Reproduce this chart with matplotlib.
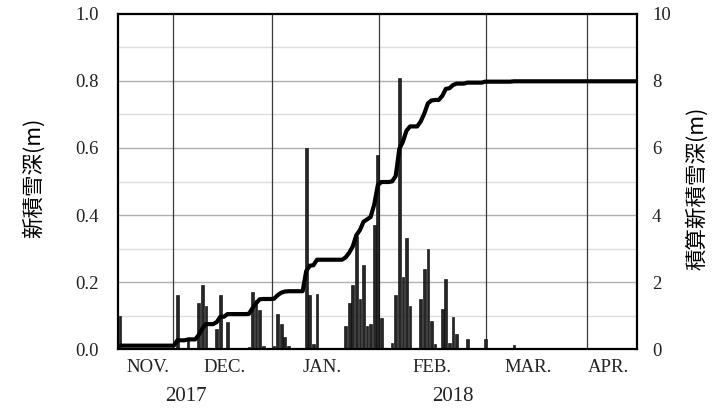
import numpy as np
import matplotlib
matplotlib.use("Agg")
import matplotlib.pyplot as plt

# daily new snow depth (m), indexed by day of the season (day 0 = left edge)
snow_days = [0, 16, 19, 22, 23, 24, 27, 28, 30, 36, 37, 38, 39, 40,
             43, 44, 45, 46, 47, 52, 53, 54, 55,
             63, 64, 65, 66, 67, 68, 69, 70, 71, 72, 73,
             76, 77, 78, 79, 80, 81, 84, 85, 86, 87, 88,
             90, 91, 92, 93, 94, 97, 102, 110]
snow_depth = [0.10, 0.16, 0.027, 0.138, 0.19, 0.128, 0.06, 0.16, 0.08, 0.007, 0.17, 0.146, 0.117, 0.01,
              0.008, 0.104, 0.075, 0.035, 0.01, 0.60, 0.161, 0.015, 0.164,
              0.069, 0.138, 0.19, 0.337, 0.15, 0.25, 0.069, 0.075, 0.37, 0.58, 0.092,
              0.019, 0.16, 0.808, 0.214, 0.33, 0.128, 0.15, 0.24, 0.30, 0.085, 0.015,
              0.12, 0.21, 0.019, 0.095, 0.044, 0.029, 0.029, 0.011]
n_days = 145

month_lines = [15.4, 43.0, 72.8, 102.7, 130.9]
month_label_pos = [8.3, 29.8, 56.9, 87.7, 114.5, 136.8]
month_labels = ["NOV.", "DEC.", "JAN.", "FEB.", "MAR.", "APR."]
years = ["2017", "2018"]

serif = "Liberation Serif"
cjk = ["Noto Sans CJK JP", "DejaVu Sans"]

daily = np.zeros(n_days)
daily[snow_days] = snow_depth
cumulative = np.cumsum(daily)
x = np.arange(n_days) + 0.5

fig = plt.figure(figsize=(7.13, 4.15), dpi=100)
ax = fig.add_axes([0.1659, 0.159, 0.727, 0.8073])
ax2 = ax.twinx()

# grid: darker every 0.2, lighter in between
for v in np.arange(0.1, 1.0, 0.1):
    major = round(v * 10) % 2 == 0
    ax.axhline(v, color="#b0b0b0" if major else "#dedede", linewidth=1.0, zorder=0)
for m in month_lines:
    ax.axvline(m, color="#3a3a3a", linewidth=0.9, zorder=1)

ax.bar(np.array(snow_days) + 0.5, snow_depth, width=0.75, color="#262626",
       edgecolor="black", linewidth=0.4, zorder=2)
ax2.plot(x, cumulative, color="black", linewidth=3.0, solid_capstyle="round", zorder=3)

ax.set_xlim(0, n_days - 0.2)
ax.set_ylim(0, 1.0)
ax2.set_ylim(0, 10)

ax.set_yticks(np.arange(0, 1.01, 0.2))
ax.set_yticklabels([f"{v:.1f}" for v in np.arange(0, 1.01, 0.2)], fontfamily=serif,
                   fontsize=13.5, color="#222222")
ax2.set_yticks(np.arange(0, 11, 2))
ax2.set_yticklabels([str(v) for v in range(0, 11, 2)], fontfamily=serif,
                    fontsize=13.5, color="#222222")
ax.tick_params(axis="y", length=0, pad=14)
ax2.tick_params(axis="y", length=0, pad=11)

ax.set_xticks(month_label_pos)
ax.set_xticklabels(month_labels, fontfamily=serif, fontsize=13.5, color="#222222")
ax.tick_params(axis="x", length=0, pad=7)

for sp in ax2.spines.values():
    sp.set_linewidth(1.6)
    sp.set_color("black")
for sp in ax.spines.values():
    sp.set_visible(False)

fig.text(186 / 713, 1 - 396 / 415, years[0], fontfamily=serif, fontsize=15,
         ha="center", va="center", color="#222222")
fig.text(453 / 713, 1 - 396 / 415, years[1], fontfamily=serif, fontsize=15,
         ha="center", va="center", color="#222222")

fig.text(34 / 713, 1 - 178 / 415, "新積雪深(m)", family=cjk, fontsize=15.5,
         rotation=90, ha="center", va="center")
fig.text(697 / 713, 1 - 188 / 415, "積算新積雪深(m)", family=cjk, fontsize=15.5,
         rotation=90, ha="center", va="center")

fig.savefig("out.png", dpi=100)
plt.close(fig)
